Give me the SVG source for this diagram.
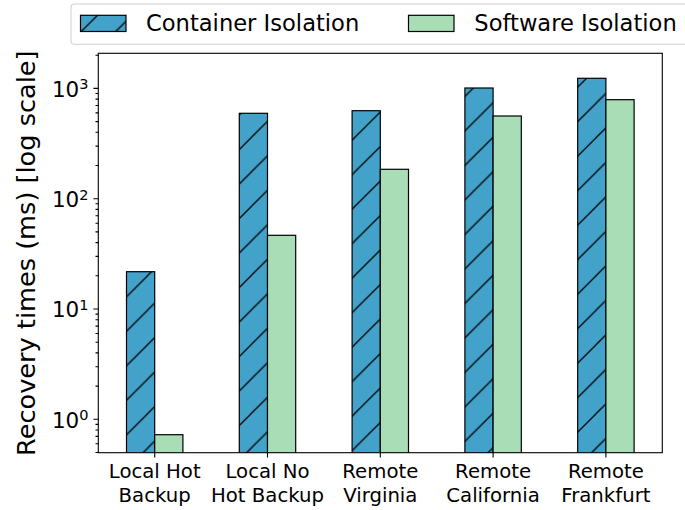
<svg xmlns="http://www.w3.org/2000/svg" width="685" height="510" viewBox="0 0 685 510">
<style>
text{font-family:"DejaVu Sans","Liberation Sans",sans-serif;fill:#000}
.xl{font-size:19.7px;text-anchor:middle}
.yt{font-size:21.5px;text-anchor:end}
.sup{font-size:14.5px}
.lg{font-size:22.6px}
.cont{fill:#43a2ca}
.soft{fill:#a8ddb5}
.hat{fill:url(#hatch)}
.edge{fill:none;stroke:#000;stroke-width:1.2}
.tick{stroke:#000;stroke-width:1.1;fill:none}
</style>
<defs>
<pattern id="hatch" patternUnits="userSpaceOnUse" x="9.3" y="0" width="34.5" height="34.5">
<path d="M-2,2L2,-2M-2,36.5L36.5,-2M32.5,36.5L36.5,32.5" stroke="#000" stroke-width="1.3" fill="none"/>
</pattern>
<clipPath id="ax"><rect x="98.3" y="53.3" width="564" height="399.4"/></clipPath>
</defs>
<rect width="685" height="510" fill="#fff"/>
<g id="bars" clip-path="url(#ax)">
<g id="g1">
<rect class="cont" x="126.5" y="271.7" width="28.2" height="190"/>
<rect class="hat" x="126.5" y="271.7" width="28.2" height="190"/>
<rect class="edge" x="126.5" y="271.7" width="28.2" height="190"/>
<rect class="soft edge" style="fill:#a8ddb5" x="154.7" y="434.7" width="28.2" height="30"/>
</g>
<g id="g2">
<rect class="cont" x="239.3" y="113.3" width="28.2" height="350"/>
<rect class="hat" x="239.3" y="113.3" width="28.2" height="350"/>
<rect class="edge" x="239.3" y="113.3" width="28.2" height="350"/>
<rect class="edge" style="fill:#a8ddb5" x="267.5" y="235.3" width="28.2" height="230"/>
</g>
<g id="g3">
<rect class="cont" x="352.1" y="110.7" width="28.2" height="350"/>
<rect class="hat" x="352.1" y="110.7" width="28.2" height="350"/>
<rect class="edge" x="352.1" y="110.7" width="28.2" height="350"/>
<rect class="edge" style="fill:#a8ddb5" x="380.3" y="169.3" width="28.2" height="300"/>
</g>
<g id="g4">
<rect class="cont" x="464.9" y="88" width="28.2" height="380"/>
<rect class="hat" x="464.9" y="88" width="28.2" height="380"/>
<rect class="edge" x="464.9" y="88" width="28.2" height="380"/>
<rect class="edge" style="fill:#a8ddb5" x="493.1" y="116" width="28.2" height="350"/>
</g>
<g id="g5">
<rect class="cont" x="577.7" y="78.3" width="28.2" height="390"/>
<rect class="hat" x="577.7" y="78.3" width="28.2" height="390"/>
<rect class="edge" x="577.7" y="78.3" width="28.2" height="390"/>
<rect class="edge" style="fill:#a8ddb5" x="605.9" y="99.7" width="28.2" height="360"/>
</g>
</g>
<g id="axes">
<rect x="98.3" y="53.3" width="564" height="399.4" fill="none" stroke="#000" stroke-width="1.1"/>
<path class="tick" d="M154.7,452.7v4.9M267.5,452.7v4.9M380.3,452.7v4.9M493.1,452.7v4.9M605.9,452.7v4.9"/>
<path class="tick" d="M93.4,419.3h4.9M93.4,309h4.9M93.4,198.7h4.9M93.4,88.4h4.9"/>
<path class="tick" d="M95.5,452.5h2.8M95.5,443.8h2.8M95.5,436.4h2.8M95.5,430h2.8M95.5,424.4h2.8
M95.5,386.1h2.8M95.5,366.7h2.8M95.5,352.9h2.8M95.5,342.2h2.8M95.5,333.5h2.8M95.5,326.1h2.8M95.5,319.7h2.8M95.5,314.1h2.8
M95.5,275.8h2.8M95.5,256.4h2.8M95.5,242.6h2.8M95.5,231.9h2.8M95.5,223.2h2.8M95.5,215.8h2.8M95.5,209.4h2.8M95.5,203.8h2.8
M95.5,165.5h2.8M95.5,146.1h2.8M95.5,132.3h2.8M95.5,121.6h2.8M95.5,112.9h2.8M95.5,105.5h2.8M95.5,99.1h2.8M95.5,93.5h2.8
M95.5,55.2h2.8"/>
<text class="yt" x="88.5" y="427.7">10<tspan class="sup" dy="-7.4">0</tspan></text>
<text class="yt" x="88.5" y="317.4">10<tspan class="sup" dy="-7.4">1</tspan></text>
<text class="yt" x="88.5" y="207.1">10<tspan class="sup" dy="-7.4">2</tspan></text>
<text class="yt" x="88.5" y="96.8">10<tspan class="sup" dy="-7.4">3</tspan></text>
<text transform="translate(35,253.2) rotate(-90)" style="font-size:25.6px;text-anchor:middle">Recovery times (ms) [log scale]</text>
<text class="xl" x="154.7" y="478.3">Local Hot</text>
<text class="xl" x="154.7" y="501.7">Backup</text>
<text class="xl" x="267.5" y="478.3">Local No</text>
<text class="xl" x="267.5" y="501.7">Hot Backup</text>
<text class="xl" x="380.3" y="478.3">Remote</text>
<text class="xl" x="380.3" y="501.7">Virginia</text>
<text class="xl" x="493.1" y="478.3">Remote</text>
<text class="xl" x="493.1" y="501.7">California</text>
<text class="xl" x="605.9" y="478.3">Remote</text>
<text class="xl" x="605.9" y="501.7">Frankfurt</text>
</g>
<g id="legend">
<rect x="71" y="4" width="640" height="40.3" rx="3.5" fill="#fff" fill-opacity="0.8" stroke="#d0d0d0" stroke-width="1.1"/>
<rect class="cont" x="80.5" y="15.3" width="45.5" height="16.2"/>
<rect class="hat" x="80.5" y="15.3" width="45.5" height="16.2"/>
<rect class="edge" x="80.5" y="15.3" width="45.5" height="16.2"/>
<text class="lg" x="146" y="31">Container Isolation</text>
<rect class="edge" style="fill:#a8ddb5" x="408.5" y="15.3" width="45.5" height="16.2"/>
<text class="lg" x="474.3" y="31">Software Isolation</text>
</g>
</svg>
